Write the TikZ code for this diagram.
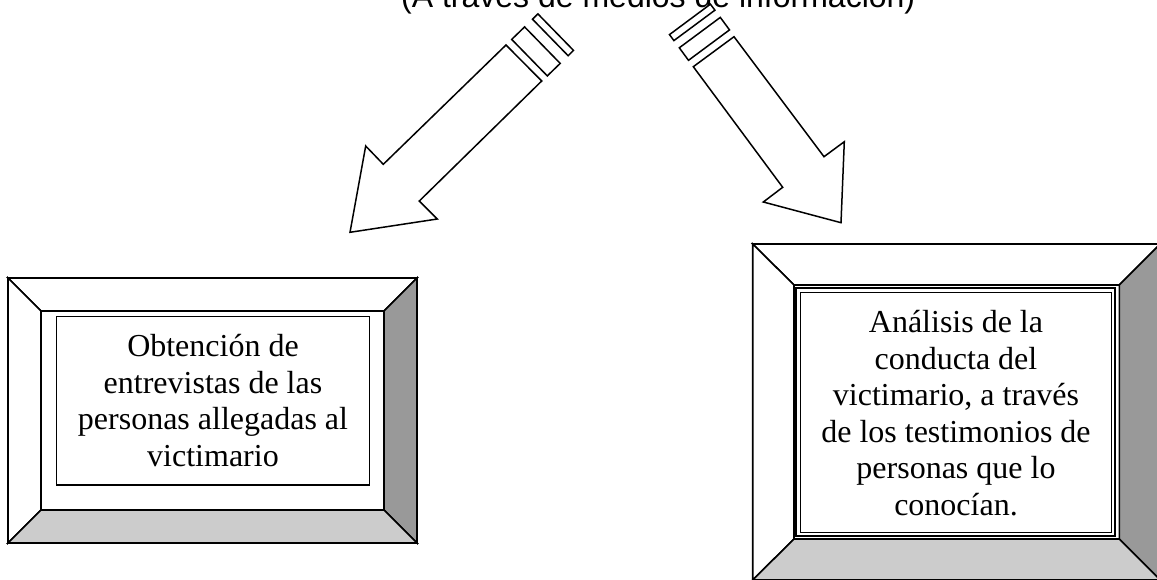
\documentclass[tikz,border=0pt]{standalone}
\usepackage{fontspec}
\setmainfont{Liberation Serif}
\newfontfamily\titlefont{Liberation Sans}
\begin{document}
\begin{tikzpicture}[x=1pt,y=-1pt,line join=miter]
\tikzset{
  blockarrow/.style={draw=black,line width=1.5pt,fill=white},
  stripebox/.style={draw=black,line width=1.5pt,fill=white},
  bevellight/.style={draw=black,line width=1.6pt,fill=white},
  beveldark/.style={draw=black,line width=1.6pt,fill=black!40},
  bevelmid/.style={draw=black,line width=1.6pt,fill=black!20},
  textframe/.style={draw=black,line width=1.5pt,fill=white},
  boxtext/.style={font=\fontsize{32}{36.5}\selectfont,align=center,inner sep=0pt},
}
\useasboundingbox (0,0) rectangle (1157,579);

% title (cut at the top edge)
\node[anchor=base west,inner sep=0pt,font=\titlefont\fontsize{32}{36}\selectfont] (title) at (401,7) {(A través de medios de información)};

% left striped block arrow
\draw[blockarrow] (506,45) -- (383.3,164.3) -- (365.7,146) -- (350,232.3) -- (437.3,219) -- (419.3,201) -- (541.7,81) -- cycle;
\draw[stripebox] (511.7,39.4) -- (524.6,26.9) -- (560.2,63.4) -- (547.3,75.9) -- cycle;
\draw[stripebox] (532.5,19.2) -- (537.9,13.9) -- (573.5,50.4) -- (568.1,55.7) -- cycle;

% right striped block arrow
\draw[blockarrow] (693.3,66.7) -- (782.7,187.3) -- (763.3,202) -- (841,222.7) -- (844.3,141.7) -- (824,156.7) -- (734,36.7) -- cycle;
\draw[stripebox] (688.5,60.3) -- (679.3,47.8) -- (720.3,17.4) -- (729.5,29.9) -- cycle;
\draw[stripebox] (673.9,40.6) -- (669.5,34.6) -- (710.4,4.2) -- (714.9,10.2) -- cycle;

% left bevel frame
\coordinate (aTL) at (8,278);   \coordinate (aTR) at (417,278);
\coordinate (aBL) at (8,543);   \coordinate (aBR) at (417,543);
\coordinate (bTL) at (41,311);  \coordinate (bTR) at (384,311);
\coordinate (bBL) at (41,510);  \coordinate (bBR) at (384,510);
\draw[bevellight] (aTL) -- (aTR) -- (bTR) -- (bTL) -- cycle;
\draw[bevellight] (aTL) -- (bTL) -- (bBL) -- (aBL) -- cycle;
\draw[beveldark] (aTR) -- (aBR) -- (bBR) -- (bTR) -- cycle;
\draw[bevelmid] (aBL) -- (bBL) -- (bBR) -- (aBR) -- cycle;
\draw[textframe] (56.7,316.7) rectangle (369.3,485);
\node[boxtext] (lefttext) at (213,400.5) {Obtención de\\entrevistas de las\\personas allegadas al\\victimario};

% right bevel frame
\coordinate (cTL) at (752.7,244);  \coordinate (cTR) at (1160.3,244);
\coordinate (cBL) at (752.7,580);  \coordinate (cBR) at (1160.3,580);
\coordinate (dTL) at (794,285);    \coordinate (dTR) at (1119.3,285);
\coordinate (dBL) at (794,539);    \coordinate (dBR) at (1119.3,539);
\draw[bevellight] (cTL) -- (cTR) -- (dTR) -- (dTL) -- cycle;
\draw[bevellight] (cTL) -- (dTL) -- (dBL) -- (cBL) -- cycle;
\draw[beveldark] (cTR) -- (cBR) -- (dBR) -- (dTR) -- cycle;
\draw[bevelmid] (cBL) -- (dBL) -- (dBR) -- (cBR) -- cycle;
\draw[draw=black,line width=2pt,fill=white] (796,287.7) rectangle (1114.5,536);
\draw[draw=black,line width=1pt] (800.5,292.3) rectangle (1111,532.5);
\node[boxtext] (righttext) at (956,413) {Análisis de la\\conducta del\\victimario, a través\\de los testimonios de\\personas que lo\\conocían.};
\end{tikzpicture}
\end{document}
